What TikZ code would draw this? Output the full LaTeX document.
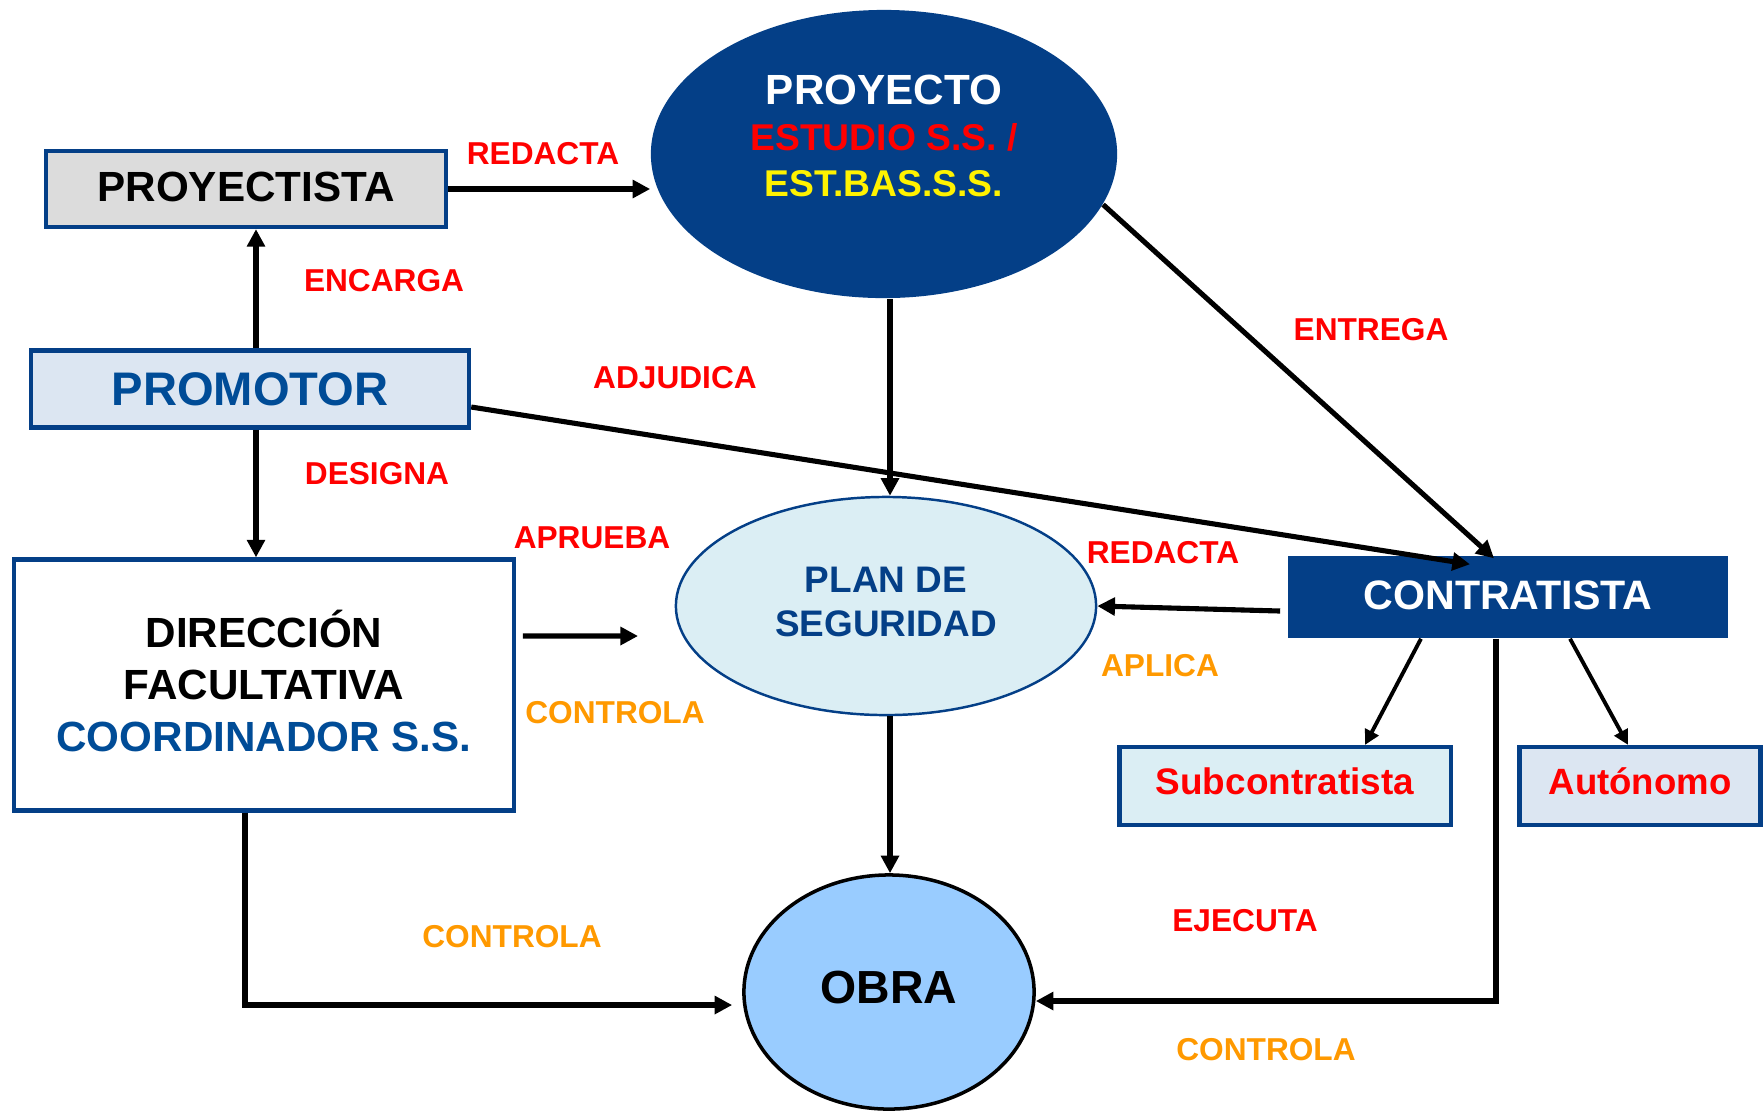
\documentclass[tikz,border=0pt]{standalone}
\usepackage{fontspec}
\setmainfont{Liberation Sans}
\usepackage{xcolor}
\usetikzlibrary{shapes}
\usetikzlibrary{arrows.meta}
\definecolor{dblue}{RGB}{4,63,135}
\definecolor{tblue}{RGB}{0,76,151}
\definecolor{lgray}{RGB}{220,220,220}
\definecolor{lsteel}{RGB}{220,230,242}
\definecolor{lcyan}{RGB}{219,238,244}
\definecolor{sky}{RGB}{153,204,255}
\definecolor{amber}{RGB}{255,153,0}
\tikzset{
  font={\fontsize{9pt}{11}\selectfont\bfseries}}

\begin{document}
\begin{tikzpicture}[x=0.01cm, y=-0.01cm]

    \tikzset{edge/.style = {->,> = {Triangle[length=5pt, width=5pt]}, line width=1.45pt}}
    \tikzset{thinedge/.style = {->,> = {Triangle[length=4.2pt, width=4.2pt]}, line width=1.1pt}}
    \tikzset{box/.style = {draw=dblue, line width=1.2pt, rectangle, inner sep=0pt, align=center, text depth=2.6pt}}
    \tikzset{redlbl/.style = {text=red, inner sep=0pt}}
    \tikzset{orangelbl/.style = {text=amber, inner sep=0pt}}
    \useasboundingbox (0,0) rectangle (1764,1114);

    % vertices
    \node[box, fill=lgray, minimum width=4cm, minimum height=0.76cm, text depth=1.3pt,
        font={\fontsize{12pt}{14}\selectfont\bfseries}] (pyta) at (246,189) {PROYECTISTA};
    \node[box, fill=lsteel, text=tblue, minimum width=4.38cm, minimum height=0.77cm, text depth=0pt,
        font={\fontsize{13.4pt}{16}\selectfont\bfseries}] (prom) at (250,389) {PROMOTOR};
    \node[box, fill=white, minimum width=4.99cm, minimum height=2.51cm,
        font={\fontsize{12pt}{14.8pt}\selectfont\bfseries}] (dir) at (264,685)
        {DIRECCIÓN\\ FACULTATIVA\\ \textcolor{tblue}{COORDINADOR S.S.}};
    \node[ellipse, fill=dblue, minimum width=4.66cm, minimum height=2.88cm,
        label={[align=center, yshift=0.18cm, font={\fontsize{10.6pt}{13pt}\selectfont\bfseries}]center:{\textcolor{white}{\fontsize{12pt}{13pt}\selectfont PROYECTO}\\ \textcolor{red}{ESTUDIO S.S. /}\\ \textcolor{yellow}{EST.BAS.S.S.}}}] (proy) at (884,154) {};
    \node[ellipse, draw=dblue, line width=0.7pt, fill=lcyan, text=dblue, align=center, text depth=2.6pt,
        minimum width=4.2cm, minimum height=2.18cm,
        font={\fontsize{10.5pt}{12.5pt}\selectfont\bfseries}] (plan) at (886,606) {PLAN DE\\ SEGURIDAD};
    \node[rectangle, fill=dblue, text=white, minimum width=4.4cm, minimum height=0.82cm, text depth=1.3pt,
        font={\fontsize{11.7pt}{14}\selectfont\bfseries}] (con) at (1508,597) {CONTRATISTA};
    \node[box, fill=lcyan, text=red, minimum width=3.31cm, minimum height=0.78cm,
        font={\fontsize{10.5pt}{12}\selectfont\bfseries}] (sub) at (1285,786) {Subcontratista};
    \node[box, fill=lsteel, text=red, minimum width=2.41cm, minimum height=0.78cm,
        font={\fontsize{10.4pt}{12}\selectfont\bfseries}] (aut) at (1640,786) {Autónomo};
    \node[ellipse, draw=black, line width=1pt, fill=sky, minimum width=2.9cm, minimum height=2.34cm, text depth=2.6pt,
        font={\fontsize{13.2pt}{16}\selectfont\bfseries}] (obra) at (889,992) {OBRA};
    \coordinate (apr) at (638,636);

    % labels
    \node[redlbl] (l1) at (543,154) {REDACTA};
    \node[redlbl] (l2) at (384,281) {ENCARGA};
    \node[redlbl] (l3) at (675,378) {ADJUDICA};
    \node[redlbl] (l4) at (377,474) {DESIGNA};
    \node[redlbl] (l5) at (592,538) {APRUEBA};
    \node[orangelbl] (l6) at (615,713) {CONTROLA};
    \node[redlbl] (l7) at (1371,330) {ENTREGA};
    \node[redlbl] (l8) at (1163,553) {REDACTA};
    \node[orangelbl] (l9) at (1160,666) {APLICA};
    \node[redlbl] (l10) at (1245,921) {EJECUTA};
    \node[orangelbl] (l11) at (512,937) {CONTROLA};
    \node[orangelbl] (l12) at (1266,1050) {CONTROLA};

    % edges
    \draw[edge] (pyta.east) -- (pyta.east -| proy.west);
    \draw[edge] ([xshift=0.06cm]prom.north) -- ([xshift=0.06cm]prom.north |- pyta.south);
    \draw[edge] ([xshift=0.06cm]prom.south) -- ([xshift=0.06cm]prom.south |- dir.north);
    \draw[edge] ([yshift=-0.18cm]prom.east) -- ([xshift=-0.38cm, yshift=-0.09cm]con.north);
    \draw[edge] ([xshift=0.06cm]proy.south) -- ([xshift=0.06cm]proy.south |- plan.north);
    \draw[edge] (proy.-13) -- ([xshift=-0.14cm, yshift=-0.03cm]con.north);
    \draw[edge] ([xshift=-0.07cm, yshift=-0.14cm]con.west) -- (plan.east);
    \draw[edge] ([xshift=0.07cm, yshift=0.49cm]dir.east) -- (apr);
    \draw[edge] ([xshift=0.04cm]plan.south) -- ([xshift=0.04cm]plan.south |- obra.north);
    \draw[edge] ([xshift=-0.19cm]dir.south) |- ([xshift=-0.1cm, yshift=-0.13cm]obra.west);
    \draw[edge] ([xshift=-0.12cm]con.south) |- ([yshift=-0.09cm]obra.east);
    \draw[thinedge] ([xshift=-0.87cm]con.south) -- ([xshift=0.8cm]sub.north);
    \draw[thinedge] ([xshift=0.62cm]con.south) -- ([xshift=-0.12cm]aut.north);

\end{tikzpicture}
\end{document}
